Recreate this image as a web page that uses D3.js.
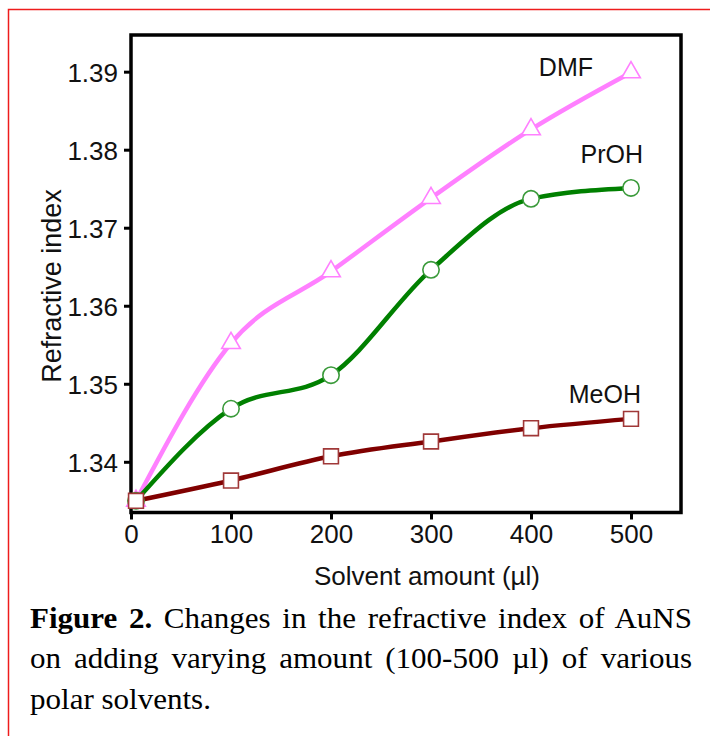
<!DOCTYPE html>
<html lang="en">
<head>
    <meta charset="UTF-8">
    <title>Refractive index vs solvent amount</title>
    <script src="https://cdnjs.cloudflare.com/ajax/libs/d3/7.8.5/d3.min.js"></script>
    <style>
        body {
            margin: 0;
            background: #fff;
        }
        svg text {
            font-family: "Liberation Sans", Arial, sans-serif;
            fill: #111;
        }
        .caption text {
            font-family: "Liberation Serif", "Times New Roman", serif;
            fill: #000;
        }
    </style>
</head>
<body>
<svg id="chart" width="710" height="736"></svg>
<script>
// Data
const amounts = [5, 100, 200, 300, 400, 500];
const dmf  = [1.3350, 1.3552, 1.3644, 1.3738, 1.3826, 1.3899];
const proh = [1.3350, 1.3468, 1.3511, 1.3646, 1.3737, 1.3751];
const meoh = [1.3350, 1.3376, 1.3407, 1.3426, 1.3443, 1.3455];
const seriesNames = ["DMF", "PrOH", "MeOH"];
const xTicks = [0, 100, 200, 300, 400, 500];
const yTicks = [1.34, 1.35, 1.36, 1.37, 1.38, 1.39];
const captionLines = [
    ["Figure 2.", " Changes in the refractive index of AuNS"],
    ["", "on adding varying amount (100-500 \u00b5l) of various"],
    ["", "polar solvents."]
];

const series = [
    { name: seriesNames[0], values: dmf },
    { name: seriesNames[1], values: proh },
    { name: seriesNames[2], values: meoh }
];

// Styles per series
const styles = {
    DMF:  { line: "#ff80ff", marker: "#ff80ff", symbol: d3.symbolTriangle, size: 150, labelDx: -38, labelDy: 4 },
    PrOH: { line: "#008000", marker: "#3a9a3a", symbol: d3.symbolCircle, size: 210, labelDx: 12, labelDy: -25 },
    MeOH: { line: "#800000", marker: "#a03838", symbol: d3.symbolSquare, size: 220, labelDx: 10, labelDy: -16 }
};

const svg = d3.select("#chart");

// red frame around the whole figure
svg.append("rect")
    .attr("x", 8.5).attr("y", 9.5)
    .attr("width", 720).attr("height", 740)
    .attr("fill", "none")
    .attr("stroke", "#ee1c1c")
    .attr("stroke-width", 1.5);

const plot = { left: 131, right: 681, top: 35, bottom: 512.5 };

const x = d3.scaleLinear().domain([0, 550]).range([plot.left, plot.right]);
const y = d3.scaleLinear().domain([1.3335, 1.3947]).range([plot.bottom, plot.top]);

// axes
const xAxis = svg.append("g")
    .attr("transform", `translate(0,${plot.bottom})`)
    .call(d3.axisBottom(x).tickValues(xTicks).tickSize(7).tickPadding(5).tickFormat(d3.format("d")));
const yAxis = svg.append("g")
    .attr("transform", `translate(${plot.left},0)`)
    .call(d3.axisLeft(y).tickValues(yTicks).tickSize(7).tickPadding(6).tickFormat(d3.format(".2f")));

[xAxis, yAxis].forEach(g => {
    g.select(".domain").remove();
    g.selectAll(".tick line").attr("stroke", "#000").attr("stroke-width", 3);
    g.selectAll(".tick text")
        .attr("fill", "#111")
        .style("font-size", "26px")
        .style("font-family", "'Liberation Sans', Arial, sans-serif");
});
yAxis.selectAll(".tick text").attr("dy", "0.36em");

// box
svg.append("rect")
    .attr("x", plot.left).attr("y", plot.top)
    .attr("width", plot.right - plot.left)
    .attr("height", plot.bottom - plot.top)
    .attr("fill", "none")
    .attr("stroke", "#000")
    .attr("stroke-width", 3.5);

// axis titles
svg.append("text")
    .attr("x", 427).attr("y", 585)
    .attr("text-anchor", "middle")
    .style("font-size", "26px")
    .text("Solvent amount (\u00b5l)");

svg.append("text")
    .attr("transform", "translate(61,286) rotate(-90)")
    .attr("text-anchor", "middle")
    .style("font-size", "27px")
    .text("Refractive index");

const line = d3.line()
    .x((d, i) => x(amounts[i]))
    .y(d => y(d))
    .curve(d3.curveMonotoneX);

// lines
series.forEach(s => {
    svg.append("path")
        .attr("d", line(s.values))
        .attr("fill", "none")
        .attr("stroke", styles[s.name].line)
        .attr("stroke-width", 4.5)
        .attr("stroke-linejoin", "round");
});

// markers
series.forEach(s => {
    const st = styles[s.name];
    const sym = d3.symbol().type(st.symbol).size(st.size);
    svg.append("g").selectAll("path")
        .data(s.values)
        .join("path")
        .attr("transform", (d, i) => `translate(${x(amounts[i])},${y(d)})`)
        .attr("d", sym)
        .attr("fill", "#fff")
        .attr("stroke", st.marker)
        .attr("stroke-width", 1.6);
});

// series labels
series.forEach(s => {
    const st = styles[s.name];
    const last = s.values.length - 1;
    svg.append("text")
        .attr("x", x(amounts[last]) + st.labelDx)
        .attr("y", y(s.values[last]) + st.labelDy)
        .attr("text-anchor", "end")
        .style("font-size", "25px")
        .text(s.name);
});

// caption, justified lines
const capLeft = 30, capRight = 692, capScale = 1.07;
const caption = svg.append("g")
    .attr("class", "caption")
    .attr("transform", `translate(${capLeft},0) scale(${capScale},1)`);
const baselines = [628, 668, 709];
captionLines.forEach((parts, i) => {
    const t = caption.append("text")
        .attr("x", 0)
        .attr("y", baselines[i])
        .style("font-size", "29px");
    if (parts[0]) t.append("tspan").style("font-weight", "bold").text(parts[0]);
    t.append("tspan").text(parts[1]);
    if (i < captionLines.length - 1) {
        const natural = t.node().getComputedTextLength();
        const gaps = (parts[0] + parts[1]).split(" ").length - 1;
        const target = (capRight - capLeft) / capScale;
        t.attr("word-spacing", (target - natural) / gaps);
    }
});
</script>
</body>
</html>
